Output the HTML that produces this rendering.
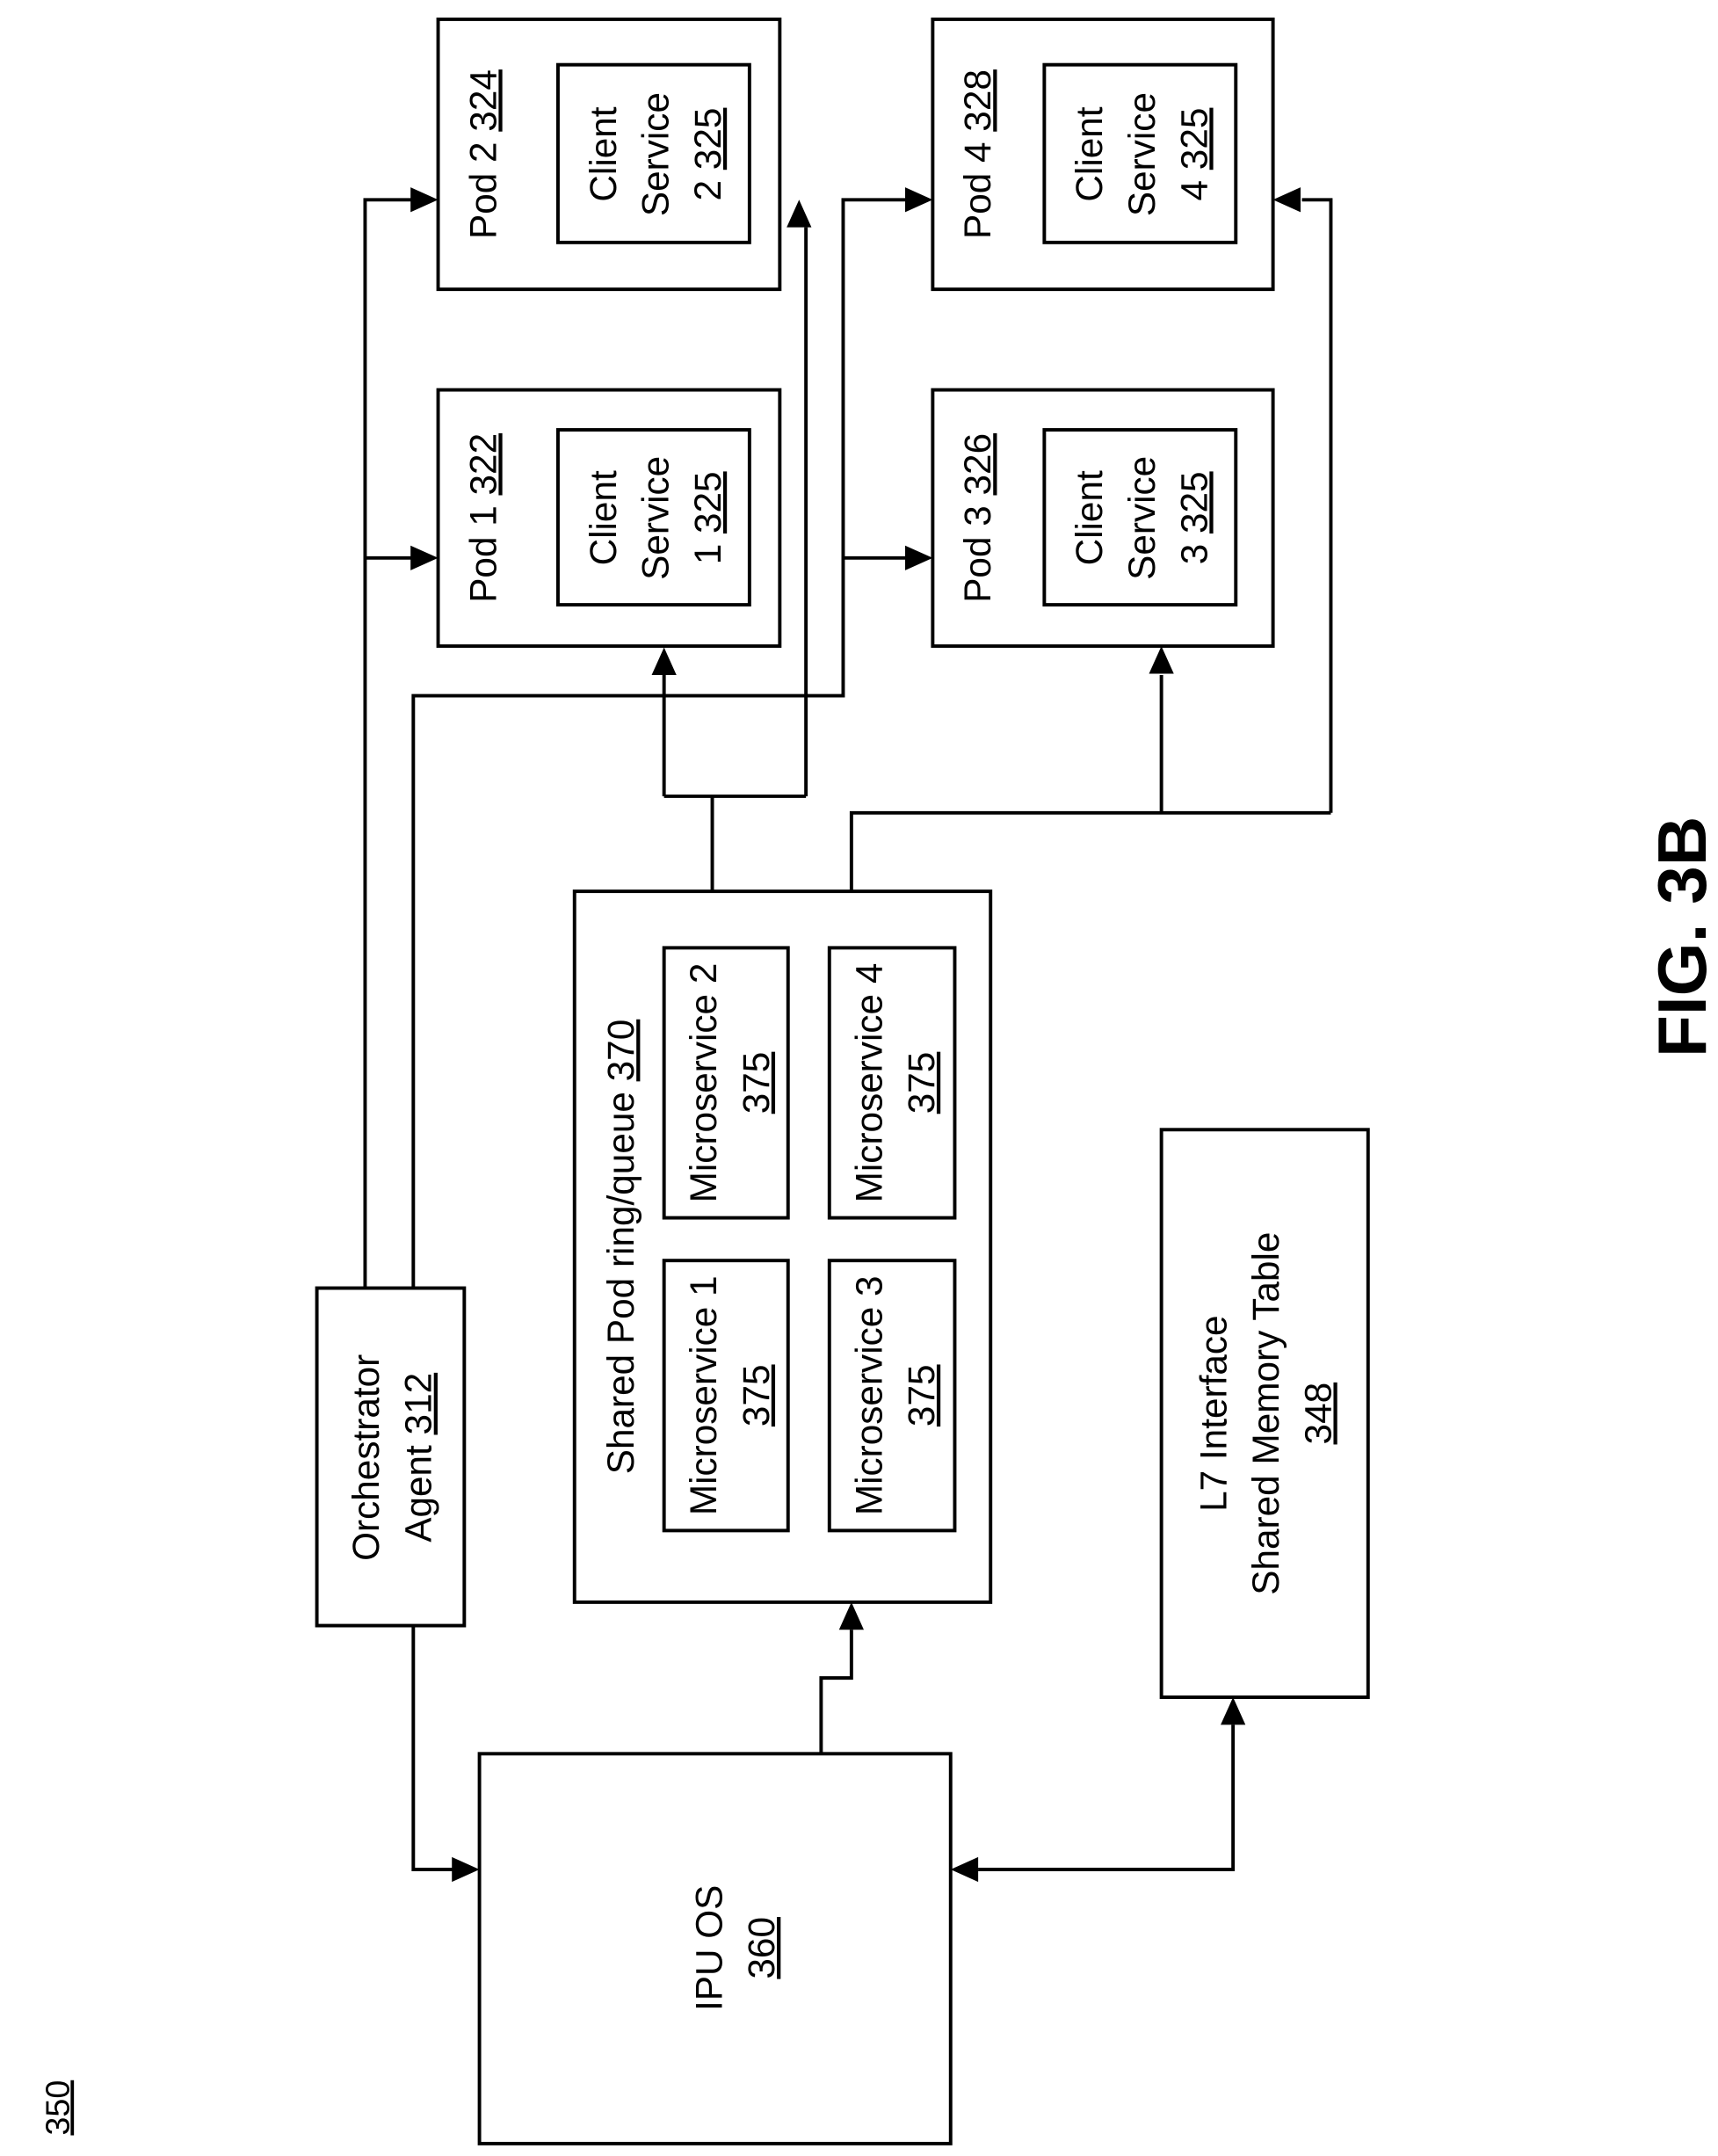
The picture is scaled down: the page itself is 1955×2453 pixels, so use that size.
<!DOCTYPE html>
<html><head><meta charset="utf-8"><style>html,body{margin:0;padding:0;background:#fff}svg{display:block}text{font-family:"Liberation Sans",Arial,sans-serif;fill:#000}</style></head>
<body>
<svg width="1955" height="2453" viewBox="0 0 1247 1565" preserveAspectRatio="none" xmlns="http://www.w3.org/2000/svg">
<defs><marker id="a" markerWidth="10" markerHeight="10" refX="9" refY="5" orient="auto" markerUnits="userSpaceOnUse"><path d="M0,0 L0,0" /></marker></defs>
<g fill="none" stroke="#000" stroke-width="2.5">
<rect x="318" y="14" width="248" height="196"/><rect x="405" y="47" width="139" height="129"/>
<rect x="318" y="283" width="248" height="186"/><rect x="405" y="312" width="139" height="127"/>
<rect x="677" y="14" width="247" height="196"/><rect x="758" y="47" width="139" height="129"/>
<rect x="677" y="283" width="247" height="186"/><rect x="758" y="312" width="139" height="127"/>
<rect x="417" y="647" width="302" height="516"/>
<rect x="482" y="688" width="90" height="196"/><rect x="482" y="915" width="90" height="196"/>
<rect x="602" y="688" width="91" height="196"/><rect x="602" y="915" width="91" height="196"/>
<rect x="230" y="935" width="107" height="245"/>
<rect x="348" y="1273" width="342" height="283"/>
<rect x="843" y="820" width="150" height="412"/>
<path d="M265,935 V145 H300 M265,405 H300"/>
<path d="M300,935 V505 H612 V145 H660 M612,405 H660"/>
<path d="M517,647 V578 M482,578 H585 M482,578 V490 M585,578 V165"/>
<path d="M618,647 V590 H966 M843,590 V490 M966,590 V145 H945"/>
<path d="M300,1180 V1357 H330"/>
<path d="M596,1273 V1218 H618 V1183"/>
<path d="M710,1357 H895 V1252"/>
</g>
<g fill="#000">
<path d="M318,145 l-20,-9 v18z M318,405 l-20,-9 v18z M677,145 l-20,-9 v18z M677,405 l-20,-9 v18z"/>
<path d="M924,145 l20,-9 v18z"/>
<path d="M482,470 l-9,20 h18z M843,469 l-9,20 h18z M618,1163 l-9,20 h18z M895,1232 l-9,20 h18z"/>
<path d="M580,145 l-9,20 h18z"/>
<path d="M348,1357 l-20,-9 v18z M690,1357 l20,-9 v18z"/>
</g>
<g font-size="27" text-anchor="middle">
<text transform="translate(360,112) rotate(-90)">Pod 2 <tspan text-decoration="underline">324</tspan></text>
<text transform="translate(360,376) rotate(-90)">Pod 1 <tspan text-decoration="underline">322</tspan></text>
<text transform="translate(719,112) rotate(-90)">Pod 4 <tspan text-decoration="underline">328</tspan></text>
<text transform="translate(719,376) rotate(-90)">Pod 3 <tspan text-decoration="underline">326</tspan></text>
<text transform="translate(447,112) rotate(-90)">Client</text>
<text transform="translate(485,112) rotate(-90)">Service</text>
<text transform="translate(523,112) rotate(-90)">2 <tspan text-decoration="underline">325</tspan></text>
<text transform="translate(447,376) rotate(-90)">Client</text>
<text transform="translate(485,376) rotate(-90)">Service</text>
<text transform="translate(523,376) rotate(-90)">1 <tspan text-decoration="underline">325</tspan></text>
<text transform="translate(800,112) rotate(-90)">Client</text>
<text transform="translate(838,112) rotate(-90)">Service</text>
<text transform="translate(876,112) rotate(-90)">4 <tspan text-decoration="underline">325</tspan></text>
<text transform="translate(800,376) rotate(-90)">Client</text>
<text transform="translate(838,376) rotate(-90)">Service</text>
<text transform="translate(876,376) rotate(-90)">3 <tspan text-decoration="underline">325</tspan></text>
<text transform="translate(460,905) rotate(-90)">Shared Pod ring/queue <tspan text-decoration="underline">370</tspan></text>
<text transform="translate(520,786) rotate(-90)">Microservice 2</text>
<text transform="translate(558,786) rotate(-90)"><tspan text-decoration="underline">375</tspan></text>
<text transform="translate(520,1013) rotate(-90)">Microservice 1</text>
<text transform="translate(558,1013) rotate(-90)"><tspan text-decoration="underline">375</tspan></text>
<text transform="translate(640,786) rotate(-90)">Microservice 4</text>
<text transform="translate(678,786) rotate(-90)"><tspan text-decoration="underline">375</tspan></text>
<text transform="translate(640,1013) rotate(-90)">Microservice 3</text>
<text transform="translate(678,1013) rotate(-90)"><tspan text-decoration="underline">375</tspan></text>
<text transform="translate(275,1058) rotate(-90)">Orchestrator</text>
<text transform="translate(313,1058) rotate(-90)">Agent <tspan text-decoration="underline">312</tspan></text>
<text transform="translate(524,1414) rotate(-90)">IPU OS</text>
<text transform="translate(562,1414) rotate(-90)"><tspan text-decoration="underline">360</tspan></text>
<text transform="translate(890,1026) rotate(-90)">L7 Interface</text>
<text transform="translate(928,1026) rotate(-90)">Shared Memory Table</text>
<text transform="translate(966,1026) rotate(-90)"><tspan text-decoration="underline">348</tspan></text>
<text transform="translate(50,1530) rotate(-90)" font-size="24"><tspan text-decoration="underline">350</tspan></text>
<text transform="translate(1238,680) rotate(-90)" font-size="50" font-weight="bold">FIG. 3B</text>
</g>
</svg>
</body></html>
